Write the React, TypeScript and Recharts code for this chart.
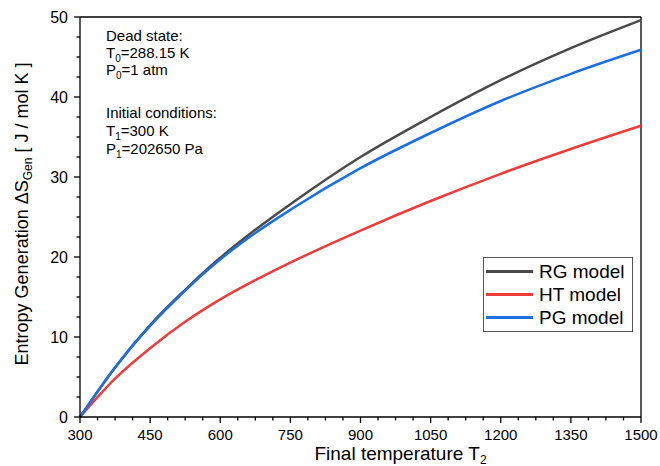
import React from "react";
import { Line, LineChart, ReferenceLine, XAxis, YAxis } from "recharts";

const FONT = "'Liberation Sans', Arial, sans-serif";

const temps = [300, 375, 450, 525, 600, 675, 750, 900, 1050, 1200, 1350, 1500];
const rgModel = [0, 6.2, 11.5, 15.9, 19.9, 23.4, 26.6, 32.5, 37.5, 42.1, 46.1, 49.6];
const htModel = [0, 4.8, 8.6, 11.9, 14.7, 17.1, 19.3, 23.3, 27.0, 30.4, 33.5, 36.4];
const pgModel = [0, 6.2, 11.4, 15.8, 19.7, 23.0, 25.9, 31.1, 35.5, 39.5, 42.9, 45.9];

const xMajorTicks = [300, 450, 600, 750, 900, 1050, 1200, 1350, 1500];
const yMajorTicks = [0, 10, 20, 30, 40, 50];

const seriesNames = ["RG model", "HT model", "PG model"];
const seriesKeys = ["rg", "ht", "pg"];
const seriesColors = ["#4a4a4a", "#ee3b3b", "#1b6fe0"];

// minor ticks: 4 per major interval on both axes
function withMinor(majors: number[]) {
  const out: number[] = [];
  for (let i = 0; i < majors.length - 1; i++) {
    const step = (majors[i + 1] - majors[i]) / 4;
    for (let k = 0; k < 4; k++) out.push(majors[i] + k * step);
  }
  out.push(majors[majors.length - 1]);
  return out;
}
const xTicks = withMinor(xMajorTicks);
const yTicks = withMinor(yMajorTicks);

const data = temps.map((t, i) => ({
  t,
  rg: rgModel[i],
  ht: htModel[i],
  pg: pgModel[i],
}));

function XTick(props: any) {
  const { x, y, payload } = props;
  const major = xMajorTicks.includes(payload.value);
  return (
    <g>
      <line x1={x} x2={x} y1={y} y2={y + (major ? 6 : 3.5)} stroke="#000" strokeWidth={1.3} />
      {major && (
        <text x={x} y={y + 22.5} textAnchor="middle" fontSize={15} fontFamily={FONT} fill="#000">
          {payload.value}
        </text>
      )}
    </g>
  );
}

function YTick(props: any) {
  const { x, y, payload } = props;
  const major = yMajorTicks.includes(payload.value);
  return (
    <g>
      <line x1={x - (major ? 6 : 3.5)} x2={x} y1={y} y2={y} stroke="#000" strokeWidth={1.3} />
      {major && (
        <text x={x - 12} y={y} dy="0.36em" textAnchor="end" fontSize={16} fontFamily={FONT} fill="#000">
          {payload.value}
        </text>
      )}
    </g>
  );
}

function XTitle(props: any) {
  const { viewBox } = props;
  const cx = viewBox.x + viewBox.width / 2 + 40;
  return (
    <text x={cx} y={460} textAnchor="middle" fontSize={19} fontFamily={FONT} fill="#000">
      Final temperature T<tspan fontSize={12} dy={3.5}>2</tspan>
    </text>
  );
}

function YTitle() {
  return (
    <text
      x={0}
      y={0}
      transform="translate(28, 214) rotate(-90)"
      textAnchor="middle"
      fontSize={18}
      fontFamily={FONT}
      fill="#000"
    >
      Entropy Generation ΔS<tspan fontSize={12} dy={4}>Gen</tspan>
      <tspan dy={-4}> [ J / mol K ]</tspan>
    </text>
  );
}

function LegendBox() {
  return (
    <div
      style={{
        position: "absolute",
        left: 483,
        top: 257,
        width: 148,
        padding: "2px 0",
        border: "1px solid #555",
        background: "#fff",
        fontFamily: FONT,
      }}
    >
      {seriesNames.map((name, i) => (
        <div key={name} style={{ display: "flex", alignItems: "center", height: 23 }}>
          <div style={{ width: 47, height: 2.5, background: seriesColors[i], marginLeft: 2 }} />
          <span style={{ marginLeft: 6, fontSize: 19, color: "#000" }}>{name}</span>
        </div>
      ))}
    </div>
  );
}

const notes = [
  { top: 27, main: "Dead state:", sub: "", rest: "" },
  { top: 44, main: "T", sub: "0", rest: "=288.15 K" },
  { top: 61, main: "P", sub: "0", rest: "=1 atm" },
  { top: 104, main: "Initial conditions:", sub: "", rest: "" },
  { top: 122, main: "T", sub: "1", rest: "=300 K" },
  { top: 140, main: "P", sub: "1", rest: "=202650 Pa" },
];

export default function App() {
  return (
    <div style={{ position: "relative", width: 660, height: 466, background: "#fff" }}>
      <style>{`body{margin:0}`}</style>
      <LineChart
        width={660}
        height={466}
        data={data}
        margin={{ top: 17, right: 19, left: 0, bottom: 0 }}
      >
        <XAxis
          dataKey="t"
          type="number"
          domain={[300, 1500]}
          ticks={xTicks}
          interval={0}
          height={49}
          tickSize={0}
          tickMargin={0}
          tickLine={false}
          tick={<XTick />}
          axisLine={{ stroke: "#000", strokeWidth: 1.3 }}
          label={<XTitle />}
        />
        <YAxis
          type="number"
          domain={[0, 50]}
          ticks={yTicks}
          interval={0}
          width={80}
          tickSize={0}
          tickMargin={0}
          tickLine={false}
          tick={<YTick />}
          axisLine={{ stroke: "#000", strokeWidth: 1.3 }}
          label={<YTitle />}
        />
        <ReferenceLine y={50} stroke="#000" strokeWidth={1.3} />
        <ReferenceLine x={1500} stroke="#000" strokeWidth={1.3} />
        {seriesKeys.map((key, i) => (
          <Line
            key={key}
            type="monotone"
            dataKey={key}
            name={seriesNames[i]}
            stroke={seriesColors[i]}
            strokeWidth={2.5}
            dot={false}
            isAnimationActive={false}
          />
        ))}
      </LineChart>
      <LegendBox />
      {notes.map((n) => (
        <div
          key={n.top}
          style={{
            position: "absolute",
            left: 106,
            top: n.top,
            fontFamily: FONT,
            fontSize: 15,
            lineHeight: "17px",
            whiteSpace: "nowrap",
            color: "#000",
          }}
        >
          {n.main}
          {n.sub && <sub style={{ fontSize: 10, lineHeight: 0 }}>{n.sub}</sub>}
          {n.rest}
        </div>
      ))}
    </div>
  );
}
